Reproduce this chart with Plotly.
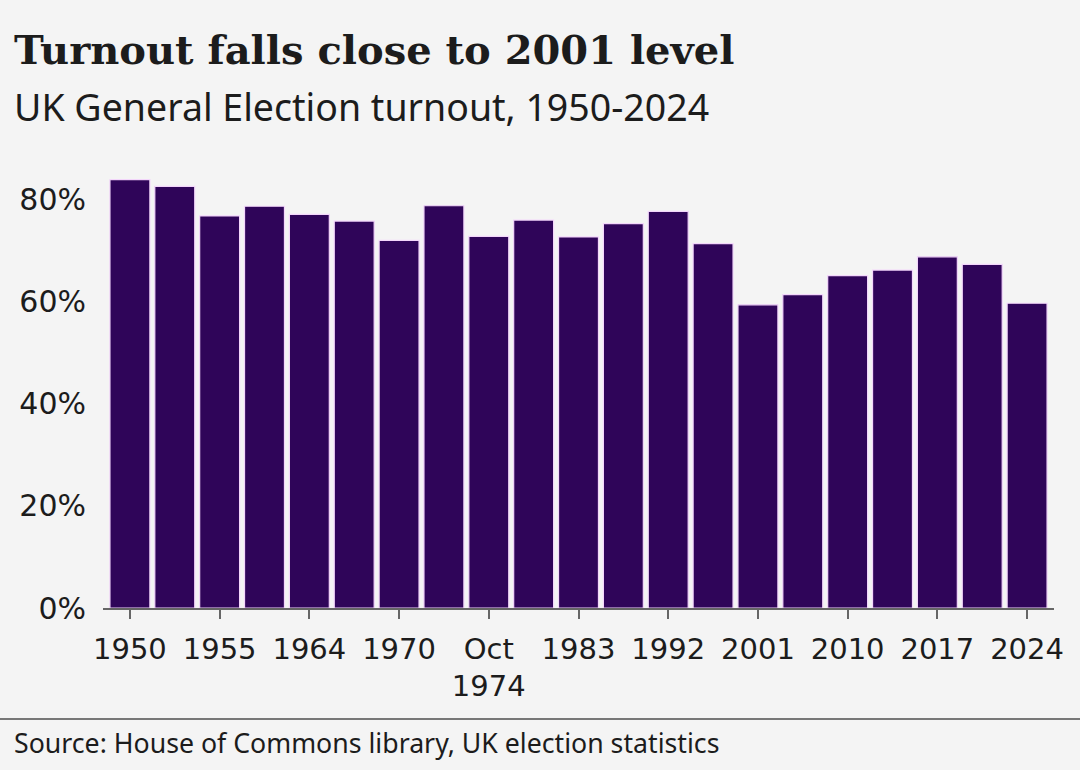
import plotly.graph_objects as go

elections = ["1950", "1951", "1955", "1959", "1964", "1966", "1970", "Feb 1974",
             "Oct 1974", "1979", "1983", "1987", "1992", "1997", "2001", "2005",
             "2010", "2015", "2017", "2019", "2024"]
turnout = [83.9, 82.6, 76.8, 78.7, 77.1, 75.8, 72.0, 78.8, 72.8, 76.0, 72.7,
           75.3, 77.7, 71.4, 59.4, 61.4, 65.1, 66.2, 68.8, 67.3, 59.7]

tick_cats = ["1950", "1955", "1964", "1970", "Oct 1974", "1983", "1992",
             "2001", "2010", "2017", "2024"]
tick_text = ["1950", "1955", "1964", "1970", "Oct<br>1974", "1983", "1992",
             "2001", "2010", "2017", "2024"]
y_ticks = [0, 20, 40, 60, 80]
y_text = ["0%", "20%", "40%", "60%", "80%"]

BG = "#f4f4f4"
BAR = "#2f0559"
TXT = "#1c1c1c"

W, H = 1080, 770
L, R, T, B = 103, 26, 169, 162
pw, ph = W - L - R, H - T - B


def px(x):
    return (x - L) / pw


def py(y):
    return (H - B - y) / ph


fig = go.Figure()
fig.add_trace(go.Bar(
    x=elections, y=turnout,
    marker=dict(color=BAR, line=dict(color="#f3d6fb", width=1.2)),
    hoverinfo="x+y",
))

fig.update_layout(
    width=W, height=H,
    margin=dict(l=L, r=R, t=T, b=B),
    paper_bgcolor=BG, plot_bgcolor=BG,
    bargap=0.11,
    showlegend=False,
    font=dict(family="Noto Sans", color=TXT),
    xaxis=dict(
        type="category", range=[-0.6, 20.6],
        tickmode="array", tickvals=tick_cats, ticktext=tick_text,
        ticks="outside", ticklen=9, tickwidth=1.5, tickcolor="#666",
        ticklabelstandoff=5,
        showline=True, linecolor="#666", linewidth=1.5,
        showgrid=False, zeroline=False,
        tickfont=dict(size=29, color=TXT, family="DejaVu Sans"),
        tickangle=0,
    ),
    yaxis=dict(
        range=[0, 86],
        tickmode="array", tickvals=y_ticks, ticktext=y_text,
        ticks="outside", ticklen=10, tickcolor="rgba(0,0,0,0)",
        showline=False, showgrid=False, zeroline=False,
        tickfont=dict(size=30, color=TXT, family="DejaVu Sans"),
    ),
    annotations=[
        dict(text="<b>Turnout falls close to 2001 level</b>", xref="paper", yref="paper",
             x=px(12), y=py(50), xanchor="left", yanchor="middle", showarrow=False,
             font=dict(family="DejaVu Serif", size=40, color=TXT)),
        dict(text="UK General Election turnout, 1950-2024", xref="paper", yref="paper",
             x=px(12), y=py(107), xanchor="left", yanchor="middle", showarrow=False,
             font=dict(family="Noto Sans", size=37.5, color=TXT)),
        dict(text="Source: House of Commons library, UK election statistics",
             xref="paper", yref="paper",
             x=px(12), y=py(742), xanchor="left", yanchor="middle", showarrow=False,
             font=dict(family="Noto Sans", size=26.7, color=TXT)),
    ],
    shapes=[
        dict(type="line", xref="paper", yref="paper", x0=px(0), x1=px(W),
             y0=py(719), y1=py(719), line=dict(color="#777", width=2)),
    ],
)

fig.write_html("out.html")
